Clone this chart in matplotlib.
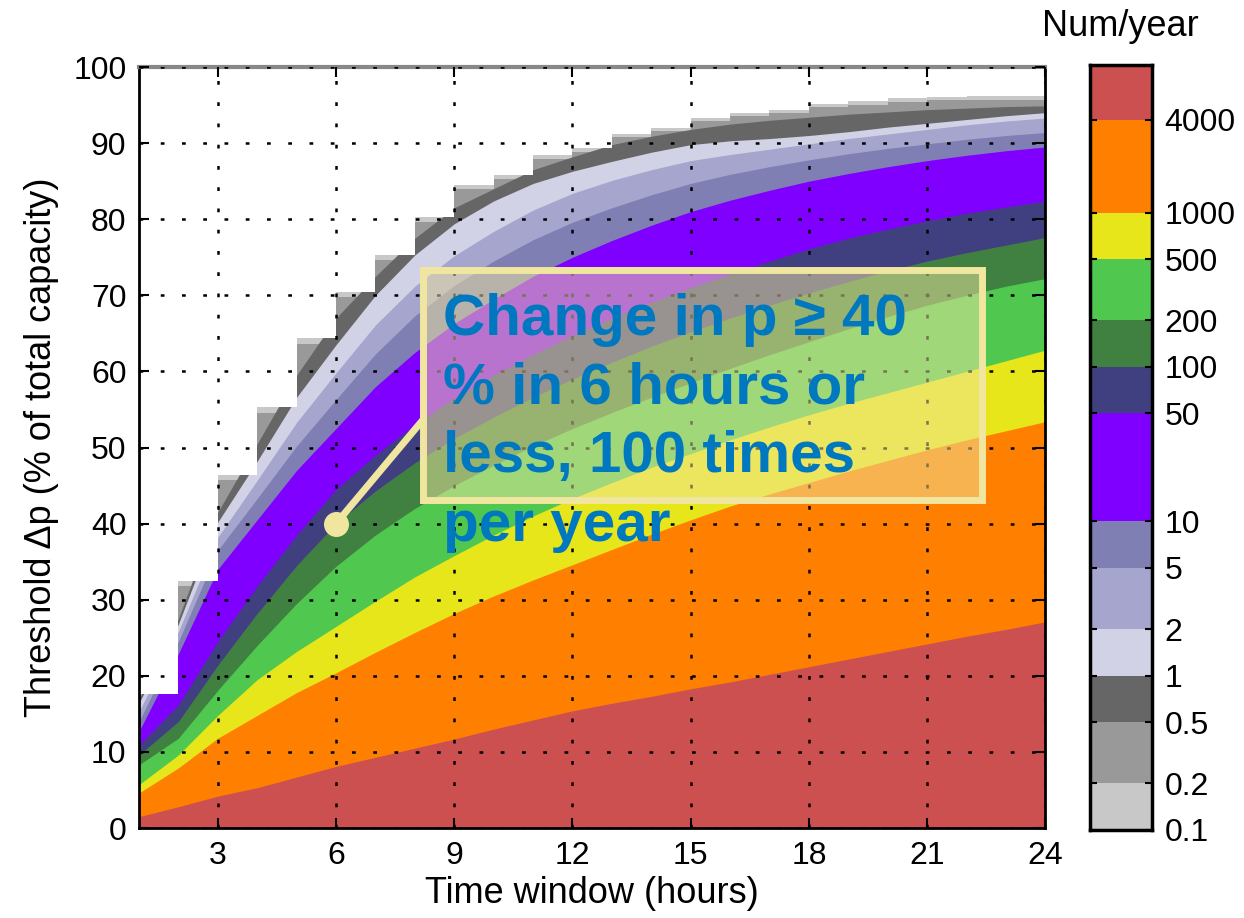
import numpy as np
import matplotlib
matplotlib.use("Agg")
import matplotlib.pyplot as plt
from matplotlib.patches import Rectangle
from matplotlib.ticker import NullLocator

plt.rcParams['font.family'] = ['Liberation Sans', 'DejaVu Sans']

# time window (hours)
hours = np.arange(1, 25)

# count levels (num/year) and the colour of the band above each level
levels = [0.1, 0.2, 0.5, 1, 2, 5, 10, 50, 100, 200, 500, 1000, 4000]
level_labels = ['0.1', '0.2', '0.5', '1', '2', '5', '10', '50', '100', '200', '500', '1000', '4000']
cbar_max = 9000
band_colors = ['#c8c8c8', '#999999', '#666666', '#d2d2e6', '#a5a5cd', '#7f7fb4',
               '#8000ff', '#404080', '#408040', '#50c850', '#e6e61a', '#ff8000', '#cd5050']

# threshold dp (% of capacity) exceeded "level" times per year, per time window
thr_0_1 = [17.6, 32.4, 46.4, 55.3, 64.4, 70.4, 75.3, 80.3, 84.5, 85.8, 88.4, 89.3,
           91.2, 92.0, 93.3, 94.0, 94.3, 95.2, 95.5, 95.9, 96.1, 96.2, 96.2, 96.2]
thr_0_2 = [17.2, 31.8, 45.7, 54.6, 63.6, 69.8, 74.7, 79.7, 84.0, 85.3, 87.9, 88.8,
           90.8, 91.6, 92.9, 93.6, 93.9, 94.7, 95.0, 95.4, 95.6, 95.7, 95.7, 95.7]
thr_0_5 = [17.0, 27.5, 41.5, 50.5, 59.5, 67.0, 72.5, 77.5, 81.5, 84.0, 86.5, 88.2,
           89.8, 90.9, 91.8, 92.5, 93.0, 93.4, 93.8, 94.1, 94.4, 94.6, 94.8, 94.9]
thr_1 = [16.4, 26.8, 40.2, 48.2, 56.6, 63.5, 70.0, 75.3, 79.4, 82.4, 84.7, 86.3,
         87.6, 88.8, 89.8, 90.3, 90.6, 91.0, 91.5, 92.1, 92.6, 93.1, 93.6, 94.0]
thr_2 = [15.3, 25.8, 38.2, 45.7, 53.3, 59.8, 66.1, 71.2, 75.2, 78.4, 81.2, 83.4,
         85.1, 86.5, 87.7, 88.5, 89.2, 89.9, 90.6, 91.2, 91.8, 92.4, 92.9, 93.3]
thr_5 = [14.0, 24.5, 36.5, 43.3, 50.2, 56.3, 62.3, 67.3, 71.3, 74.5, 77.3, 79.6,
         81.5, 83.2, 84.7, 85.9, 86.9, 87.8, 88.6, 89.3, 89.9, 90.5, 91.0, 91.4]
thr_10 = [12.7, 22.9, 34.0, 40.5, 47.0, 52.5, 58.0, 62.5, 66.3, 69.5, 72.5, 75.0,
          77.2, 79.2, 81.0, 82.5, 83.8, 85.0, 86.0, 86.9, 87.7, 88.4, 89.0, 89.5]
thr_50 = [10.9, 16.2, 24.5, 31.8, 38.5, 44.5, 49.0, 53.0, 56.5, 59.5, 62.2, 64.7,
          67.0, 69.1, 71.0, 72.8, 74.5, 76.1, 77.5, 78.7, 79.8, 80.8, 81.6, 82.4]
thr_100 = [9.6, 14.0, 21.4, 28.2, 34.5, 40.0, 44.3, 48.0, 51.2, 54.0, 56.6, 59.0,
           61.2, 63.3, 65.2, 67.0, 68.7, 70.3, 71.8, 73.2, 74.5, 75.6, 76.6, 77.6]
thr_200 = [8.3, 11.8, 18.1, 24.0, 29.5, 34.4, 38.5, 42.0, 45.0, 47.7, 50.2, 52.5,
           54.6, 56.6, 58.5, 60.4, 62.2, 63.9, 65.6, 67.2, 68.7, 70.0, 71.2, 72.2]
thr_500 = [5.7, 9.6, 14.8, 19.5, 23.2, 26.5, 29.8, 33.0, 35.8, 38.5, 41.0, 43.3,
           45.4, 47.4, 49.2, 51.0, 52.7, 54.3, 55.8, 57.2, 58.6, 60.0, 61.4, 62.8]
thr_1000 = [4.6, 7.9, 11.8, 14.8, 17.8, 20.4, 23.1, 25.7, 28.2, 30.5, 32.6, 34.6,
            36.6, 38.6, 40.5, 42.3, 43.9, 45.4, 46.9, 48.3, 49.7, 51.0, 52.2, 53.4]
thr_4000 = [1.5, 2.8, 4.2, 5.3, 6.7, 8.1, 9.3, 10.5, 11.7, 13.0, 14.2, 15.4,
            16.4, 17.3, 18.3, 19.2, 20.2, 21.2, 22.2, 23.2, 24.2, 25.2, 26.1, 27.1]

thresholds = [thr_0_1, thr_0_2, thr_0_5, thr_1, thr_2, thr_5, thr_10,
              thr_50, thr_100, thr_200, thr_500, thr_1000, thr_4000]
stepped = [True, True] + [False] * 11

# annotation
note_point = (6, 40)
note_text = "Change in p \u2265 40\n% in 6 hours or\nless, 100 times\nper year"
box_col = '#f0e6a0'
text_col = '#0078c0'

fig = plt.figure(figsize=(12.44, 9.18), dpi=100)
ax = fig.add_axes([0.1117, 0.098, 0.7286, 0.829])

# each level fills everything below its threshold curve, outermost first
for thr, col, st in zip(thresholds, band_colors, stepped):
    if st:
        ax.fill_between(hours, 0, thr, step='post', color=col, lw=0, zorder=1)
    else:
        ax.fill_between(hours, 0, thr, color=col, lw=0, zorder=1)
# nothing recorded above the rarest level
ax.fill_between(hours, thr_0_1, 100, step='post', color='white', lw=0, zorder=1.5)

ax.set_xlim(1, 24)
ax.set_ylim(0, 100)
ax.set_xticks(range(3, 25, 3))
ax.set_yticks(range(0, 101, 10))
ax.set_axisbelow(False)
ax.grid(True, color=(0, 0, 0, 0.2), linestyle=(0, (1.5, 7)), linewidth=1.8)
ax.tick_params(direction='in', length=7, width=1.5, top=True, right=True,
               labelsize=23, pad=9)
for side in ['left', 'right', 'bottom']:
    ax.spines[side].set_linewidth(2)
ax.spines['top'].set_color('#888888')
ax.spines['top'].set_linewidth(3)
ax.set_xlabel('Time window (hours)', fontsize=26, labelpad=4)
ax.set_ylabel('Threshold \u0394p (% of total capacity)', fontsize=26, labelpad=10)

ax.plot([note_point[0], 8.2], [note_point[1], 53.6], color=box_col, lw=5,
        solid_capstyle='butt', zorder=4)
ax.plot(*note_point, 'o', ms=17, color=box_col, mec=box_col, zorder=5)
ax.add_patch(Rectangle((8.2, 43.1), 14.2, 30.2, facecolor=(0.94, 0.90, 0.63, 0.5),
                       edgecolor=box_col, lw=5, zorder=4))
ax.text(8.72, 70.3, note_text, color=text_col, fontsize=42, fontweight='bold',
        ha='left', va='top', linespacing=1.35, zorder=6)

# colour bar
cax = fig.add_axes([0.876, 0.0959, 0.05, 0.833])
cax.set_yscale('log')
bounds = levels + [cbar_max]
for lo, hi, col in zip(bounds[:-1], bounds[1:], band_colors):
    cax.axhspan(lo, hi, color=col, lw=0)
cax.set_ylim(levels[0], cbar_max)
cax.set_xlim(0, 1)
cax.set_xticks([])
cax.yaxis.tick_right()
cax.set_yticks(levels)
cax.set_yticklabels(level_labels)
cax.yaxis.set_minor_locator(NullLocator())
cax.tick_params(axis='y', direction='in', length=5, width=1.5, left=True, right=True,
                labelleft=False, labelright=True, labelsize=23, pad=9)
for sp in cax.spines.values():
    sp.set_linewidth(2.5)
fig.text(0.901, 0.971, 'Num/year', ha='center', va='center', fontsize=26)

fig.savefig('out.png', dpi=100)
